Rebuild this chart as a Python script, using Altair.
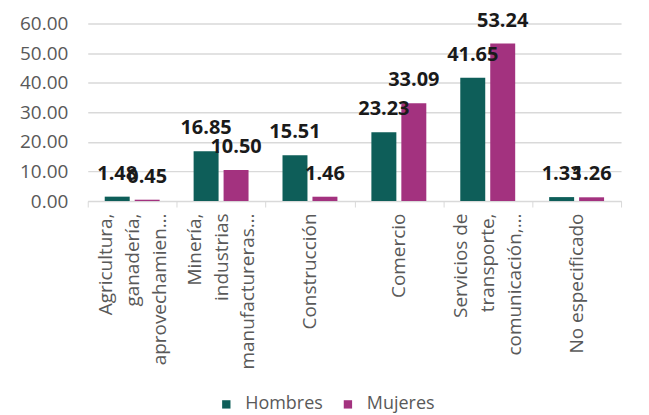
import altair as alt
import pandas as pd

categories = [
    "Agricultura,|ganadería,|aprovechamien…",
    "Minería,|industrias|manufactureras…",
    "Construcción",
    "Comercio",
    "Servicios de|transporte,|comunicación,…",
    "No especificado",
]
hombres = [1.48, 16.85, 15.51, 23.23, 41.65, 1.33]
mujeres = [0.45, 10.50, 1.46, 33.09, 53.24, 1.26]
series = ["Hombres", "Mujeres"]
colors = ["#0E5E59", "#A3327F"]

rows = []
for c, h, m in zip(categories, hombres, mujeres):
    rows.append({"cat": c, "serie": "Hombres", "valor": h})
    rows.append({"cat": c, "serie": "Mujeres", "valor": m})
df = pd.DataFrame(rows)

FONT = "Open Sans"
LH = 27

x = alt.X(
    "cat:N",
    sort=categories,
    title=None,
    scale=alt.Scale(paddingInner=0, paddingOuter=0),
    axis=alt.Axis(
        labelAngle=270,
        labelAlign="right",
        labelBaseline="middle",
        labelExpr="split(datum.label, '|')",
        labelFont=FONT,
        labelFontSize=19,
        labelLineHeight=LH,
        labelColor="#595959",
        labelPadding=6,
        labelLimit=0,
        labelOffset={
            "condition": {"test": "indexof(datum.label, '|') >= 0", "value": -LH},
            "value": 0,
        },
        tickBand="extent",
        tickColor="#D9D9D9",
        tickSize=6,
        domainColor="#D9D9D9",
        grid=False,
    ),
)
xoff = alt.XOffset(
    "serie:N",
    sort=series,
    scale=alt.Scale(paddingInner=0.1667, paddingOuter=0.567),
)
y = alt.Y(
    "valor:Q",
    title=None,
    scale=alt.Scale(domain=[0, 60], nice=False),
    axis=alt.Axis(
        values=[0, 10, 20, 30, 40, 50, 60],
        format=".2f",
        labelFont=FONT,
        labelFontSize=19,
        labelColor="#595959",
        labelPadding=20,
        domain=False,
        ticks=False,
        gridColor="#D9D9D9",
        gridWidth=1.5,
    ),
)
color = alt.Color(
    "serie:N",
    sort=series,
    scale=alt.Scale(domain=series, range=colors),
    legend=alt.Legend(
        title=None,
        orient="none",
        direction="horizontal",
        legendX=130,
        legendY=373,
        symbolType="square",
        symbolSize=70,
        symbolStrokeWidth=0,
        labelFont=FONT,
        labelFontSize=18,
        labelColor="#595959",
        labelOffset=10,
        columnPadding=16,
    ),
)

base = alt.Chart(df).encode(x=x, xOffset=xoff, y=y)

bars = base.mark_bar().encode(color=color)
labels = base.mark_text(
    font=FONT, fontSize=20, fontWeight="bold", color="#1a1a1a",
    baseline="middle", dy=-23,
).encode(text=alt.Text("valor:Q", format=".2f"))

chart = (
    alt.layer(bars, labels)
    .properties(
        width=535,
        height=178,
        autosize=alt.AutoSizeParams(type="none"),
        padding={"left": 80, "top": 15, "right": 20, "bottom": 214},
    )
    .configure_view(stroke=None)
)

chart.save("out.html", embed_options={"renderer": "svg", "actions": False})
